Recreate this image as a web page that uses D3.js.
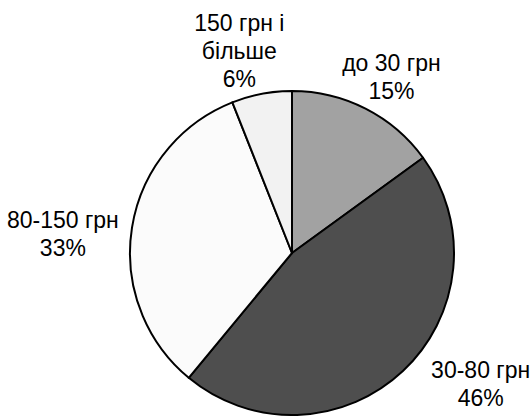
<!DOCTYPE html>
<html>
<head>
<meta charset="utf-8">
<script src="https://cdn.jsdelivr.net/npm/d3@7"></script>
<style>
  body { margin: 0; background: #fff; }
  svg { display: block; }
  text { font-family: "Liberation Sans", Arial, sans-serif; font-size: 23px; fill: #000; }
</style>
</head>
<body>
<svg id="chart" width="532" height="416"></svg>
<script>
// Data
const categories = ["до 30 грн", "30-80 грн", "80-150 грн", "150 грн і більше"];
const shares = [15, 46, 33, 6];
// how each category label is broken into lines
const labelLines = [["до 30 грн"], ["30-80 грн"], ["80-150 грн"], ["150 грн і", "більше"]];
const colors = ["#a2a2a2", "#4e4e4e", "#fbfbfb", "#f2f2f2"];

// label tweaks (pixels) on top of the outside placement
const labelNudge = [[-1, -3], [37, -11], [-4, 11], [-12, 2]];

const svg = d3.select("#chart");
const cx = 292, cy = 253, radius = 162;
const lineHeight = 28, capHeight = 16.5, gap = 10;

const pie = d3.pie().sort(null).value(d => d);
const arcs = pie(shares);

const arc = d3.arc().innerRadius(0).outerRadius(radius);
const edge = d3.arc().innerRadius(radius + gap).outerRadius(radius + gap);

const g = svg.append("g").attr("transform", `translate(${cx},${cy})`);

g.selectAll("path.slice")
  .data(arcs)
  .enter().append("path")
  .attr("class", "slice")
  .attr("d", arc)
  .attr("fill", (d, i) => colors[i])
  .attr("stroke", "#000")
  .attr("stroke-width", 2)
  .attr("stroke-linejoin", "round");

// Labels: category lines + percent
arcs.forEach((d, i) => {
  const lines = labelLines[i].concat([shares[i] + "%"]);
  const t = g.append("text").attr("text-anchor", "middle");
  lines.forEach((s, k) => {
    t.append("tspan").attr("x", 0).attr("y", k * lineHeight).text(s);
  });
  const w = t.node().getBBox().width;
  const h = (lines.length - 1) * lineHeight + capHeight;
  const a = (d.startAngle + d.endAngle) / 2;
  const p = edge.centroid(d);
  const bx = p[0] + Math.sin(a) * w / 2 + labelNudge[i][0];
  const by = p[1] - Math.cos(a) * h / 2 + labelNudge[i][1];
  // first baseline sits capHeight below the block top
  const firstBase = by - h / 2 + capHeight;
  t.attr("transform", `translate(${bx},${firstBase})`);
});
</script>
</body>
</html>
